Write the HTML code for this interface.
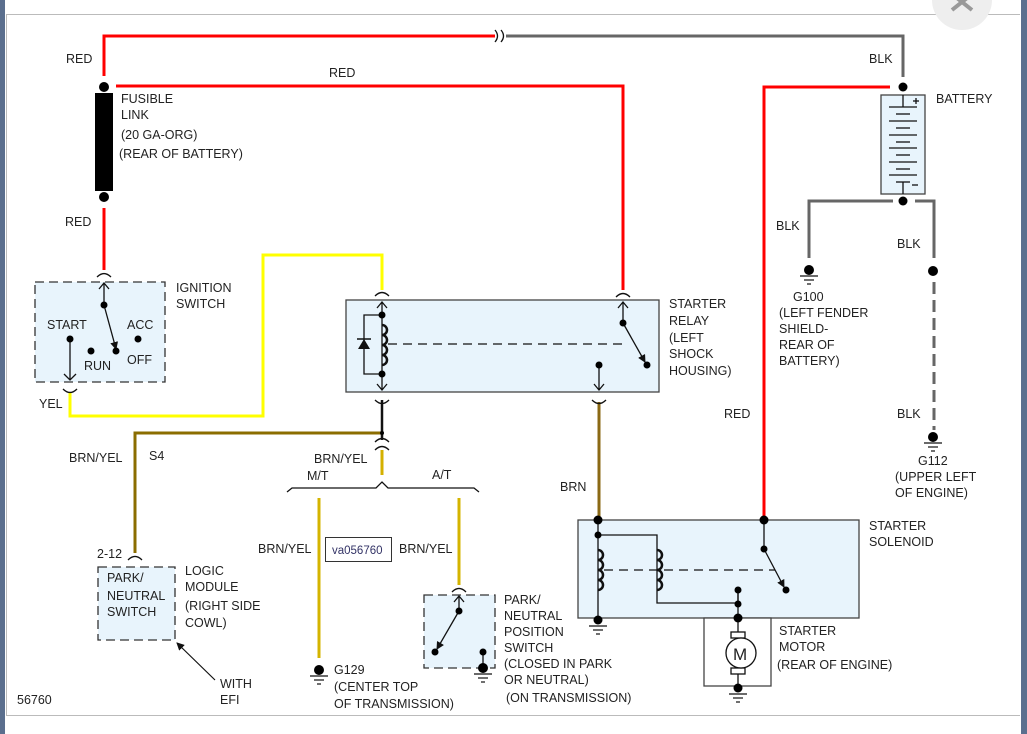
<!DOCTYPE html>
<html><head><style>
html,body{margin:0;padding:0;width:1027px;height:734px;overflow:hidden;background:#fff}
svg{display:block}
text{font-family:"Liberation Sans",Arial,sans-serif;font-size:12.5px;fill:#222}
</style></head><body>
<svg width="1027" height="734" viewBox="0 0 1027 734">
<defs>
<marker id="ah" markerWidth="8" markerHeight="8" refX="7" refY="4" orient="auto" markerUnits="userSpaceOnUse"><path d="M0,0 L8,4 L0,8 z" fill="#111"/></marker>
</defs>
<rect x="0" y="0" width="5" height="734" fill="#5b6f8e"/>
<rect x="1021" y="0" width="6" height="734" fill="#5b6f8e"/>
<line x1="6" y1="14.5" x2="1020" y2="14.5" stroke="#bbb"/>
<line x1="6" y1="715.5" x2="1020" y2="715.5" stroke="#bbb"/>
<line x1="6.5" y1="14" x2="6.5" y2="716" stroke="#bbb"/>
<circle cx="962" cy="0" r="30" fill="#eee"/>
<path d="M952,-6 L972,10 M972,-6 L952,10" stroke="#999" stroke-width="4" fill="none"/>

<g fill="none" stroke-width="3">
<path d="M104,76 V36 H495" stroke="#f00"/>
<path d="M506,36 H903 V77" stroke="#666"/>
<path d="M116,86 H623 V290" stroke="#f00"/>
<path d="M104,208 V270" stroke="#f00"/>
<path d="M890,87 H764 V520" stroke="#f00"/>
<path d="M70,393 V416 H263 V255 H382 V290" stroke="#ff0"/>
<path d="M599,402 V520" stroke="#8b6914"/>
<path d="M382,433 H135 V553" stroke="#8b6d00"/>
<path d="M382,450 V475" stroke="#d4b000"/>
<path d="M319,498 V658 M459,498 V585" stroke="#d4b400"/>
<path d="M893,201 H809 V258 M915,201 H934 V258" stroke="#666"/>
<path d="M934,282 V430" stroke="#666" stroke-dasharray="12,6"/>
</g>
<path d="M495,30 q5,6 0,12 M501,30 q5,6 0,12" stroke="#111" fill="none" stroke-width="1.3"/>
<circle cx="104" cy="87" r="5" fill="#000"/>
<rect x="95" y="93" width="18" height="98" fill="#000"/>
<circle cx="104" cy="197" r="5" fill="#000"/>
<line x1="382" y1="400" x2="382" y2="440" stroke="#111" stroke-width="2.5"/>

<g fill="none" stroke="#111" stroke-width="1.3">
<path d="M97,277 q7,-7 14,0 M616,297 q7,-7 14,0 M375,296 q7,-7 14,0 M63,389 q7,7 14,0 M375,400 q7,7 14,0 M592,400 q7,7 14,0 M375,442 q7,-7 14,0 M375,450 q7,-7 14,0 M128,560 q7,-7 14,0 M452,592 q7,-7 14,0"/>
<path d="M287,492 l5,-4 h84 l6,-6 l6,6 h86 l5,4"/>
</g>

<rect x="35" y="282" width="130" height="100" fill="#e8f4fc" stroke="#333" stroke-width="1.3" stroke-dasharray="9,5"/>
<g stroke="#111" stroke-width="1.3" fill="none">
<line x1="104" y1="304" x2="104" y2="284"/><path d="M99,289 l5,-6 l5,6"/>
<line x1="70" y1="339" x2="70" y2="380"/><path d="M64,374 l6,6 l6,-6"/>
<line x1="104" y1="305" x2="116" y2="349" marker-end="url(#ah)"/>
</g>
<g fill="#000"><circle cx="104" cy="305" r="3.5"/><circle cx="116" cy="351" r="3.5"/><circle cx="70" cy="339" r="3.5"/><circle cx="91" cy="351" r="3.5"/><circle cx="138" cy="339" r="3.5"/></g>

<rect x="346" y="300" width="313" height="92" fill="#e8f4fc" stroke="#444" stroke-width="1.3"/>
<g stroke="#111" stroke-width="1.3" fill="none">
<line x1="382" y1="302" x2="382" y2="390"/><path d="M377,308 l5,-6 l5,6 M377,384 l5,6 l5,-6"/>
<path d="M382,315 H364 V374 H382"/>
<path d="M382,325 a4,4 0 0 1 0,10 a4,4 0 0 1 0,10 a4,4 0 0 1 0,10 a4,4 0 0 1 0,10" stroke-width="2.5"/>
<line x1="388" y1="344" x2="625" y2="344" stroke-dasharray="9,6"/>
<line x1="623" y1="302" x2="623" y2="323"/><path d="M618,308 l5,-6 l5,6"/>
<line x1="623" y1="323" x2="645" y2="362" marker-end="url(#ah)"/>
<line x1="599" y1="365" x2="599" y2="390"/><path d="M594,384 l5,6 l5,-6"/>
</g>
<path d="M358,349 h12 l-6,-10 z" fill="#111"/><line x1="357" y1="339" x2="371" y2="339" stroke="#111" stroke-width="1.5"/>
<g fill="#000"><circle cx="382" cy="315" r="3.5"/><circle cx="382" cy="374" r="3.5"/><circle cx="623" cy="323" r="3.5"/><circle cx="647" cy="365" r="3.5"/><circle cx="599" cy="365" r="3.5"/><circle cx="382" cy="433" r="2"/></g>

<rect x="98" y="567" width="77" height="73" fill="#e8f4fc" stroke="#333" stroke-width="1.3" stroke-dasharray="9,5"/>
<line x1="215" y1="680" x2="177" y2="643" stroke="#111" stroke-width="1.2" marker-end="url(#ah)"/>

<rect x="325.5" y="537.5" width="66" height="24" fill="#fff" stroke="#333"/>
<text x="332" y="554" style="font-size:11.5px;fill:#336">va056760</text>

<circle cx="319" cy="670" r="5" fill="#000"/>
<g stroke="#111" stroke-width="1.2"><line x1="310" y1="676" x2="328" y2="676"/><line x1="314" y1="680" x2="324" y2="680"/><line x1="317" y1="684" x2="321" y2="684"/></g>

<rect x="424" y="595" width="71" height="73" fill="#e8f4fc" stroke="#333" stroke-width="1.3" stroke-dasharray="9,5"/>
<g stroke="#111" stroke-width="1.3" fill="none">
<line x1="459" y1="611" x2="459" y2="597"/><path d="M454,602 l5,-6 l5,6"/>
<line x1="459" y1="611" x2="437" y2="649" marker-end="url(#ah)"/>
<line x1="483" y1="652" x2="483" y2="668"/>
</g>
<g fill="#000"><circle cx="459" cy="611" r="3.5"/><circle cx="435" cy="652" r="3.5"/><circle cx="483" cy="652" r="3.5"/><circle cx="483" cy="668" r="5"/></g>
<g stroke="#111" stroke-width="1.2"><line x1="474" y1="674" x2="492" y2="674"/><line x1="478" y1="678" x2="488" y2="678"/><line x1="481" y1="682" x2="485" y2="682"/></g>

<rect x="578" y="520" width="281" height="98" fill="#e8f4fc" stroke="#444" stroke-width="1.3"/>
<rect x="704" y="618" width="67" height="68" fill="#fff" stroke="#444" stroke-width="1.3"/>
<g stroke="#111" stroke-width="1.3" fill="none">
<line x1="598" y1="520" x2="598" y2="620"/>
<path d="M598,535 H657 V603 H738 V590"/>
<path d="M598,550 a4,4 0 0 1 0,10 a4,4 0 0 1 0,10 a4,4 0 0 1 0,10 a4,4 0 0 1 0,10" stroke-width="2.5"/>
<path d="M657,550 a4,4 0 0 1 0,10 a4,4 0 0 1 0,10 a4,4 0 0 1 0,10 a4,4 0 0 1 0,10" stroke-width="2.5"/>
<line x1="604" y1="570" x2="775" y2="570" stroke-dasharray="9,6"/>
<line x1="764" y1="520" x2="764" y2="549"/>
<line x1="764" y1="549" x2="784" y2="587" marker-end="url(#ah)"/>
<line x1="738" y1="590" x2="738" y2="632"/><line x1="738" y1="674" x2="738" y2="688"/>
<rect x="731" y="632" width="14" height="6"/><rect x="731" y="668" width="14" height="6"/>
<circle cx="741" cy="653" r="15" fill="#fff"/>
</g>
<text x="733" y="660" style="font-size:17px">M</text>
<g fill="#000"><circle cx="598" cy="520" r="4.5"/><circle cx="764" cy="520" r="4.5"/><circle cx="598" cy="535" r="3.5"/><circle cx="764" cy="549" r="3.5"/><circle cx="786" cy="590" r="3.5"/><circle cx="738" cy="590" r="3.5"/><circle cx="738" cy="604" r="3.5"/><circle cx="738" cy="618" r="4.5"/><circle cx="598" cy="620" r="4.5"/><circle cx="738" cy="688" r="4.5"/></g>
<g stroke="#111" stroke-width="1.2"><line x1="589" y1="626" x2="607" y2="626"/><line x1="593" y1="630" x2="603" y2="630"/><line x1="596" y1="634" x2="600" y2="634"/>
<line x1="729" y1="694" x2="747" y2="694"/><line x1="733" y1="698" x2="743" y2="698"/><line x1="736" y1="702" x2="740" y2="702"/></g>

<circle cx="903" cy="87" r="4.5" fill="#000"/>
<rect x="881" y="95" width="44" height="99" fill="#e8f4fc" stroke="#444" stroke-width="1.3"/>
<g stroke="#111" stroke-width="1.3">
<line x1="903" y1="95" x2="903" y2="107"/><line x1="889" y1="107" x2="917" y2="107"/>
<line x1="896" y1="114" x2="910" y2="114"/><line x1="889" y1="121" x2="917" y2="121"/>
<line x1="896" y1="128" x2="910" y2="128"/><line x1="889" y1="135" x2="917" y2="135"/>
<line x1="896" y1="142" x2="910" y2="142"/><line x1="889" y1="148" x2="917" y2="148"/>
<line x1="896" y1="155" x2="910" y2="155"/><line x1="889" y1="162" x2="917" y2="162"/>
<line x1="896" y1="169" x2="910" y2="169"/><line x1="889" y1="175" x2="917" y2="175"/>
<line x1="896" y1="182" x2="910" y2="182"/><line x1="903" y1="182" x2="903" y2="194"/>
<line x1="913" y1="101" x2="919" y2="101"/><line x1="916" y1="98" x2="916" y2="104"/>
<line x1="912" y1="185" x2="918" y2="185"/>
</g>
<circle cx="903" cy="201" r="4.5" fill="#000"/>
<circle cx="809" cy="270" r="5" fill="#000"/>
<g stroke="#111" stroke-width="1.2"><line x1="800" y1="276" x2="818" y2="276"/><line x1="804" y1="280" x2="814" y2="280"/><line x1="807" y1="284" x2="811" y2="284"/>
<line x1="924" y1="443" x2="942" y2="443"/><line x1="928" y1="447" x2="938" y2="447"/><line x1="931" y1="451" x2="935" y2="451"/></g>
<circle cx="933" cy="271" r="5" fill="#000"/>
<circle cx="933" cy="437" r="5" fill="#000"/>

<text x="66" y="63">RED</text>
<text x="329" y="77">RED</text>
<text x="121" y="103">FUSIBLE</text>
<text x="121" y="119">LINK</text>
<text x="121" y="139">(20 GA-ORG)</text>
<text x="119" y="158">(REAR OF BATTERY)</text>
<text x="65" y="226">RED</text>
<text x="176" y="292">IGNITION</text>
<text x="176" y="308">SWITCH</text>
<text x="47" y="329">START</text>
<text x="127" y="329">ACC</text>
<text x="84" y="370">RUN</text>
<text x="127" y="364">OFF</text>
<text x="39" y="408">YEL</text>
<text x="669" y="308">STARTER</text>
<text x="669" y="325">RELAY</text>
<text x="669" y="342">(LEFT</text>
<text x="669" y="358">SHOCK</text>
<text x="669" y="375">HOUSING)</text>
<text x="869" y="63">BLK</text>
<text x="936" y="103">BATTERY</text>
<text x="776" y="230">BLK</text>
<text x="897" y="248">BLK</text>
<text x="793" y="301">G100</text>
<text x="779" y="317">(LEFT FENDER</text>
<text x="779" y="333">SHIELD-</text>
<text x="779" y="349">REAR OF</text>
<text x="779" y="365">BATTERY)</text>
<text x="724" y="418">RED</text>
<text x="897" y="418">BLK</text>
<text x="918" y="465">G112</text>
<text x="895" y="481">(UPPER LEFT</text>
<text x="895" y="497">OF ENGINE)</text>
<text x="69" y="462">BRN/YEL</text>
<text x="149" y="460">S4</text>
<text x="314" y="463">BRN/YEL</text>
<text x="307" y="480">M/T</text>
<text x="432" y="479">A/T</text>
<text x="560" y="491">BRN</text>
<text x="869" y="530">STARTER</text>
<text x="869" y="546">SOLENOID</text>
<text x="258" y="553">BRN/YEL</text>
<text x="399" y="553">BRN/YEL</text>
<text x="97" y="558">2-12</text>
<text x="107" y="582">PARK/</text>
<text x="107" y="600">NEUTRAL</text>
<text x="107" y="616">SWITCH</text>
<text x="185" y="575">LOGIC</text>
<text x="185" y="591">MODULE</text>
<text x="185" y="610">(RIGHT SIDE</text>
<text x="185" y="627">COWL)</text>
<text x="504" y="604">PARK/</text>
<text x="504" y="620">NEUTRAL</text>
<text x="504" y="636">POSITION</text>
<text x="504" y="652">SWITCH</text>
<text x="504" y="668">(CLOSED IN PARK</text>
<text x="504" y="684">OR NEUTRAL)</text>
<text x="506" y="702">(ON TRANSMISSION)</text>
<text x="779" y="635">STARTER</text>
<text x="779" y="651">MOTOR</text>
<text x="777" y="669">(REAR OF ENGINE)</text>
<text x="334" y="674">G129</text>
<text x="334" y="691">(CENTER TOP</text>
<text x="334" y="708">OF TRANSMISSION)</text>
<text x="220" y="688">WITH</text>
<text x="220" y="704">EFI</text>
<text x="17" y="704">56760</text>
</svg>
</body></html>
